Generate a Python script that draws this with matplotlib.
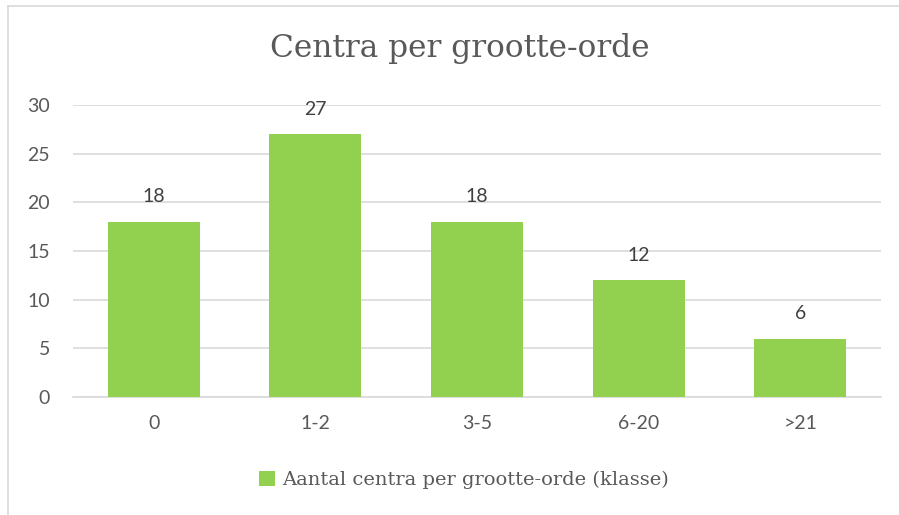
import matplotlib
matplotlib.use("Agg")
import matplotlib.pyplot as plt

categories = ["0", "1-2", "3-5", "6-20", ">21"]
values = [18, 27, 18, 12, 6]
yticks = [0, 5, 10, 15, 20, 25, 30]
title = "Centra per grootte-orde"
series_name = "Aantal centra per grootte-orde (klasse)"

green = "#92D050"
text_col = "#595959"
label_col = "#404040"
grid_col = "#D9D9D9"

fig = plt.figure(figsize=(8.99, 5.15), dpi=100)
ax = fig.add_axes([73/899, 1-397/515, (881-73)/899, (397-105)/515])

x = range(len(categories))
bars = ax.bar(x, values, width=0.57, color=green, zorder=3, label=series_name)
ax.set_xlim(-0.5, len(categories)-0.5)
ax.set_ylim(0, 30)
ax.set_yticks(yticks)
ax.set_xticks(list(x))
ax.set_xticklabels(categories)

tick_font = "Lato"
for lab in ax.get_xticklabels() + ax.get_yticklabels():
    lab.set_fontfamily(tick_font)
    lab.set_fontsize(14)
    lab.set_color(text_col)
ax.tick_params(axis="both", length=0)
ax.tick_params(axis="y", pad=16.5)
ax.tick_params(axis="x", pad=13)

ax.grid(axis="y", color=grid_col, linewidth=1.2, zorder=0)
for s in ["top", "right", "left"]:
    ax.spines[s].set_visible(False)
ax.spines["bottom"].set_color(grid_col)
ax.spines["bottom"].set_linewidth(1.2)

for b, v in zip(bars, values):
    ax.annotate(str(v), (b.get_x() + b.get_width()/2, v), xytext=(0, 12),
                textcoords="offset points", ha="center", va="bottom",
                fontsize=14, color=label_col, family=tick_font)

fig.text(460/899, 1-48/515, title, ha="center", va="center",
         fontsize=22.5, color=text_col, family="DejaVu Serif")

leg = fig.legend(handles=[bars], labels=[series_name], loc="center",
                 bbox_to_anchor=(464/899, 1-480/515), frameon=False,
                 prop={"family": "DejaVu Serif", "size": 14},
                 handlelength=0.8, handleheight=0.8, handletextpad=0.4)
for t in leg.get_texts():
    t.set_color(text_col)

# chart border (top and left visible)
fig.add_artist(plt.Line2D([8/899, 8/899], [0, 1-6/515], transform=fig.transFigure,
                          color=grid_col, linewidth=1.2))
fig.add_artist(plt.Line2D([8/899, 1], [1-6/515, 1-6/515], transform=fig.transFigure,
                          color=grid_col, linewidth=1.2))

fig.savefig("out.png", dpi=100)
